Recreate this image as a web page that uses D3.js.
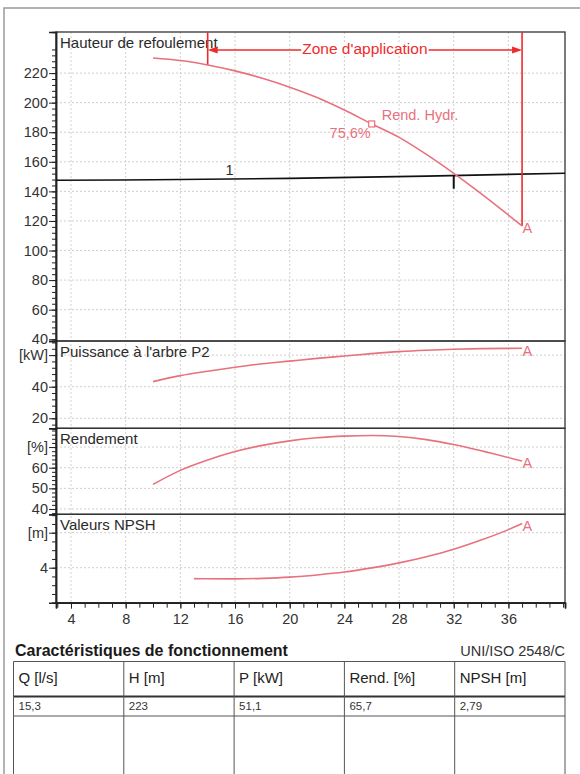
<!DOCTYPE html>
<html><head><meta charset="utf-8">
<script src="https://cdn.jsdelivr.net/npm/d3@7"></script>
<style>
html,body{margin:0;padding:0;background:#fff;}
svg{display:block;font-family:"Liberation Sans",Arial,sans-serif;}
</style></head>
<body>
<svg id="c" width="580" height="774"></svg>
<script>
// ---------- data ----------
const qHead = [10,12,14,16,18,20,22,24,26,28,30,32,34,37];
const head  = [230.2,228.5,225.5,221.5,216.5,210.5,203.5,195,185.6,176.5,165,152.2,138.5,116.6];
const qPow  = [10,12,14,16,18,20,22,24,26,28,30,32,34,37];
const power = [43.2,47,49.8,52.3,54.5,56.2,57.9,59.4,60.9,62.2,63.1,63.7,64.1,64.3];
const qEff  = [10,12,14,16,18,20,22,24,26,28,30,32,34,37];
const eff   = [51.9,58.7,63.7,67.8,70.8,73.0,74.5,75.3,75.6,75.1,73.6,71.2,68.2,63.2];
const qNpsh = [13,14,16,18,20,22,24,26,28,30,32,34,36,37];
const npsh  = [2.75,2.73,2.72,2.78,2.92,3.17,3.5,3.98,4.55,5.25,6.1,7.15,8.35,9.05];
const qSys  = [2.9,10,20,30,40.14];
const hSys  = [147.5,147.9,148.8,150.3,152.3];
const xTicks = [4,8,12,16,20,24,28,32,36];
const hTicks = [40,60,80,100,120,140,160,180,200,220];
const pTicks = [20,40,60];
const eTicks = [40,50,60,70];
const nTicks = [4,8];
const zoneQ = [14,37];
const bepQ = 26, bepLabel = "75,6%";
const dutyQ = 32;
const tableHead = ["Q [l/s]","H [m]","P [kW]","Rend. [%]","NPSH [m]"];
const tableVals = ["15,3","223","51,1","65,7","2,79"];

// ---------- layout ----------
const svg = d3.select("#c");
const L = 56, R = 565;
const panels = [
  {top:32,  bot:341, dom:[38.8,247.8], major:hTicks, minor:d3.range(40,237,4), unit:null, title:"Hauteur de refoulement"},
  {top:341, bot:428.3, dom:[13.67,68.92], major:pTicks, minor:d3.range(16,69,4), unit:"[kW]", unitAt:60, title:"Puissance à l'arbre P2"},
  {top:428.3, bot:514.3, dom:[37.43,79.08], major:eTicks, minor:d3.range(38,79,2), unit:"[%]", unitAt:70, title:"Rendement"},
  {top:514.3, bot:602.7, dom:[0,10.1], major:nTicks, minor:d3.range(0,11,1), unit:"[m]", unitAt:8, title:"Valeurs NPSH"}
];
panels.forEach(p => p.y = d3.scaleLinear().domain(p.dom).range([p.bot,p.top]));
const x = d3.scaleLinear().domain([2.903,40.14]).range([L,R]);

const pink = "#e8717d", red = "#ee2b2b", txt = "#2a2a2a";
const FS = 14.5;

// outer frame
svg.append("rect").attr("x",4).attr("y",8).attr("width",600).attr("height",800)
  .attr("fill","none").attr("stroke","#9a9a9a").attr("stroke-width",1.5);

// grids
const g = svg.append("g");
panels.forEach(p => {
  g.selectAll(null).data(p.major.filter(v => p.y(v) > p.top+2 && p.y(v) < p.bot-2)).enter().append("line")
    .attr("x1",L).attr("x2",R).attr("y1",d=>p.y(d)).attr("y2",d=>p.y(d))
    .attr("stroke","#cfcfcf").attr("stroke-dasharray","2,2");
});
g.selectAll(null).data(xTicks).enter().append("line")
  .attr("x1",d=>x(d)).attr("x2",d=>x(d)).attr("y1",32).attr("y2",602.7)
  .attr("stroke","#cfcfcf").attr("stroke-dasharray","2,2");

// panel frames
panels.forEach(p => {
  svg.append("rect").attr("x",L).attr("y",p.top).attr("width",R-L).attr("height",p.bot-p.top)
    .attr("fill","none").attr("stroke","#333").attr("stroke-width",1.3);
});

// y axes
panels.forEach(p => {
  const minorAx = d3.axisLeft(p.y).tickValues(p.minor).tickSize(4).tickFormat("");
  const ga = svg.append("g").attr("transform",`translate(${L},0)`).call(minorAx);
  const majorAx = d3.axisLeft(p.y).tickValues(p.major).tickSize(7).tickPadding(1)
    .tickFormat(d => (p.unit && d===p.unitAt) ? p.unit : d);
  const gb = svg.append("g").attr("transform",`translate(${L},0)`).call(majorAx);
  [ga,gb].forEach(a => { a.select(".domain").attr("stroke","#222").attr("stroke-width",1.5);
    a.selectAll(".tick line").attr("stroke","#222"); });
  gb.selectAll("text").attr("font-size",FS).attr("fill","#333").attr("font-family","Liberation Sans, Arial, sans-serif");
  svg.append("text").attr("x",60).attr("y",p.top+12).attr("dominant-baseline","middle")
    .attr("font-size",15).attr("fill",txt).text(p.title);
});

// x axis
const gxm = svg.append("g").attr("transform","translate(0,602.7)")
  .call(d3.axisBottom(x).tickValues(d3.range(3,41,1)).tickSize(5).tickFormat(""));
const gx = svg.append("g").attr("transform","translate(0,602.7)")
  .call(d3.axisBottom(x).tickValues(xTicks).tickSize(6).tickPadding(5));
[gxm,gx].forEach(a => { a.select(".domain").attr("stroke","#222").attr("stroke-width",1.5);
  a.selectAll(".tick line").attr("stroke","#222"); });
gx.selectAll("text").attr("font-size",FS).attr("fill","#333").attr("font-family","Liberation Sans, Arial, sans-serif");

// curves
const H = panels[0].y, P = panels[1].y, E = panels[2].y, N = panels[3].y;
function curve(qs, vs, ys, color, w){
  const pts = qs.map((q,i)=>[q,vs[i]]);
  svg.append("path").datum(pts)
    .attr("d", d3.line().x(d=>x(d[0])).y(d=>ys(d[1])).curve(d3.curveMonotoneX))
    .attr("fill","none").attr("stroke",color).attr("stroke-width",w);
  return pts[pts.length-1];
}
// system curve
curve(qSys, hSys, H, "#111", 1.6);
svg.append("text").attr("x",x(15.6)).attr("y",H(153.6)).attr("text-anchor","middle").attr("dominant-baseline","middle")
  .attr("font-size",FS).attr("fill",txt).text("1");
const hDuty = 150.6;
svg.append("line").attr("x1",x(dutyQ)).attr("x2",x(dutyQ)).attr("y1",H(hDuty)).attr("y2",H(hDuty)+13)
  .attr("stroke","#111").attr("stroke-width",2);

// zone d'application
const zH = zoneQ.map(q => head[qHead.indexOf(q)]);
zoneQ.forEach((q,i) => svg.append("line").attr("x1",x(q)).attr("x2",x(q)).attr("y1",32).attr("y2",H(zH[i]))
  .attr("stroke",red).attr("stroke-width",1.6));
const ay = 50, xl = x(zoneQ[0]), xr = x(zoneQ[1]);
svg.append("line").attr("x1",xl+8).attr("x2",xr-8).attr("y1",ay).attr("y2",ay).attr("stroke",red).attr("stroke-width",1.6);
svg.append("path").attr("d",`M${xl},${ay}L${xl+10},${ay-3.5}L${xl+10},${ay+3.5}Z`).attr("fill",red);
svg.append("path").attr("d",`M${xr},${ay}L${xr-10},${ay-3.5}L${xr-10},${ay+3.5}Z`).attr("fill",red);
const zrect = svg.append("rect").attr("fill","#fff");
const zt = svg.append("text").attr("x",(xl+xr)/2).attr("y",ay).attr("text-anchor","middle").attr("dominant-baseline","middle")
  .attr("font-size",15.5).attr("fill",red).text("Zone d'application");
const bb = zt.node().getBBox();
zrect.attr("x",bb.x-1).attr("y",bb.y+3).attr("width",bb.width+2).attr("height",bb.height-6);

const ends = [
  curve(qHead, head, H, pink, 1.6),
  curve(qPow, power, P, pink, 1.6),
  curve(qEff, eff, E, pink, 1.6),
  curve(qNpsh, npsh, N, pink, 1.6)
];
const ysArr = [H,P,E,N];
ends.forEach((e,i) => svg.append("text").attr("x",x(e[0])+0.5).attr("y",ysArr[i](e[1])+3.5)
  .attr("dominant-baseline","middle").attr("font-size",FS).attr("fill",pink).text("A"));

// best efficiency point marker
const bx = x(bepQ), by = H(head[qHead.indexOf(bepQ)]);
svg.append("rect").attr("x",bx-3).attr("y",by-3).attr("width",6).attr("height",6)
  .attr("fill","#fff").attr("stroke",pink).attr("stroke-width",1.2);
svg.append("text").attr("x",bx+10).attr("y",by-8).attr("dominant-baseline","middle")
  .attr("font-size",FS).attr("fill",pink).text("Rend. Hydr.");
svg.append("text").attr("x",bx-1).attr("y",by+10).attr("text-anchor","end").attr("dominant-baseline","middle")
  .attr("font-size",FS).attr("fill",pink).text(bepLabel);

// table
svg.append("text").attr("x",15).attr("y",656).attr("font-size",16).attr("font-weight","bold").attr("fill","#1a1a1a")
  .text("Caractéristiques de fonctionnement");
svg.append("text").attr("x",565).attr("y",656).attr("text-anchor","end").attr("font-size",14.5).attr("fill","#333")
  .text("UNI/ISO 2548/C");
const col = d3.scaleLinear().domain([0,5]).range([13.5,565]);
const tTop = 661.5, tHead = 696.5, tRow = 716;
svg.append("line").attr("x1",col(0)).attr("x2",col(5)).attr("y1",tTop).attr("y2",tTop).attr("stroke","#555");
svg.append("line").attr("x1",col(0)).attr("x2",col(5)).attr("y1",tHead).attr("y2",tHead).attr("stroke","#333").attr("stroke-width",1.8);
svg.append("line").attr("x1",col(0)).attr("x2",col(5)).attr("y1",tRow).attr("y2",tRow).attr("stroke","#555");
svg.selectAll(null).data(d3.range(6)).enter().append("line")
  .attr("x1",d=>col(d)).attr("x2",d=>col(d)).attr("y1",tTop).attr("y2",780).attr("stroke","#555");
svg.selectAll(null).data(tableHead).enter().append("text")
  .attr("x",(d,i)=>col(i)+5).attr("y",679).attr("dominant-baseline","middle").attr("font-size",15).attr("fill","#222").text(d=>d);
svg.selectAll(null).data(tableVals).enter().append("text")
  .attr("x",(d,i)=>col(i)+5).attr("y",707).attr("dominant-baseline","middle").attr("font-size",11.5).attr("fill","#333").text(d=>d);
</script>
</body></html>
